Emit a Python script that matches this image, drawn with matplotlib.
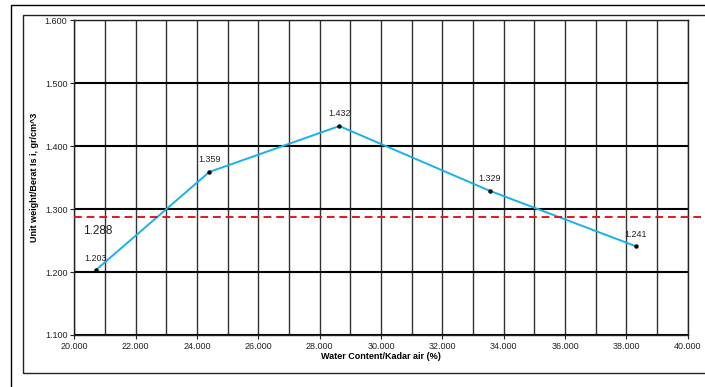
import matplotlib.pyplot as plt
import numpy as np
from matplotlib.patches import Rectangle
from matplotlib.ticker import MultipleLocator, FormatStrFormatter

plt.rcParams["font.family"] = ["Liberation Sans", "DejaVu Sans"]

# compaction test points
water_content = [20.70, 24.40, 28.64, 33.55, 38.31]
unit_weight = [1.203, 1.359, 1.432, 1.329, 1.241]
reference_weight = 1.288

fig = plt.figure(figsize=(7.05, 3.87), dpi=100)
ax = fig.add_axes([0.1054, 0.1344, 0.8701, 0.8131])

# frame boxes around the chart
fig.patches.append(Rectangle((10.7 / 705, -0.1), 1.1, 1 - 4.7 / 387 + 0.1,
                             transform=fig.transFigure, fill=False,
                             edgecolor="black", lw=1.0))
fig.patches.append(Rectangle((23 / 705, 1 - 373.3 / 387), 1.1, (373.3 - 15.3) / 387,
                             transform=fig.transFigure, fill=False,
                             edgecolor="#222222", lw=1.0))

ax.set_xlim(20, 40)
ax.set_ylim(1.1, 1.6)
ax.xaxis.set_major_locator(MultipleLocator(2))
ax.xaxis.set_minor_locator(MultipleLocator(1))
ax.yaxis.set_major_locator(MultipleLocator(0.1))
ax.xaxis.set_major_formatter(FormatStrFormatter("%.3f"))
ax.yaxis.set_major_formatter(FormatStrFormatter("%.3f"))

ax.grid(axis="x", which="both", color="#333333", lw=1.0)
ax.grid(axis="y", which="major", color="black", lw=1.5)
ax.set_axisbelow(True)
for s in ax.spines.values():
    s.set_color("#222222")
    s.set_linewidth(1.0)

ax.tick_params(axis="both", which="major", labelsize=6.5, length=3,
               width=0.8, colors="#222222", pad=2)
ax.tick_params(axis="x", which="minor", length=0)

ax.plot(water_content, unit_weight, color="#1AB0EC", lw=1.4, zorder=3)
ax.plot(water_content, unit_weight, "o", color="black", ms=2.2, zorder=4)
for x, y in zip(water_content, unit_weight):
    ax.text(x, y + 0.012, f"{y:.3f}", ha="center", va="bottom",
            fontsize=6.5, color="#222222")

# reference line runs past the plot frame
ax.plot([20, 40.6], [reference_weight, reference_weight], color="#E8141C",
        lw=1.4, ls=(0, (4, 2.5)), clip_on=False, zorder=3)
ax.text(20.3, 1.266, f"{reference_weight:.3f}", fontsize=8.5,
        color="#222222", va="center")

ax.set_xlabel("Water Content/Kadar air (%)", fontsize=6.5,
              fontweight="bold", labelpad=1)
ax.set_ylabel("Unit weight/Berat Is i, gr/cm^3", fontsize=6.5,
              fontweight="bold", labelpad=4)

fig.savefig("out.png", dpi=100)
